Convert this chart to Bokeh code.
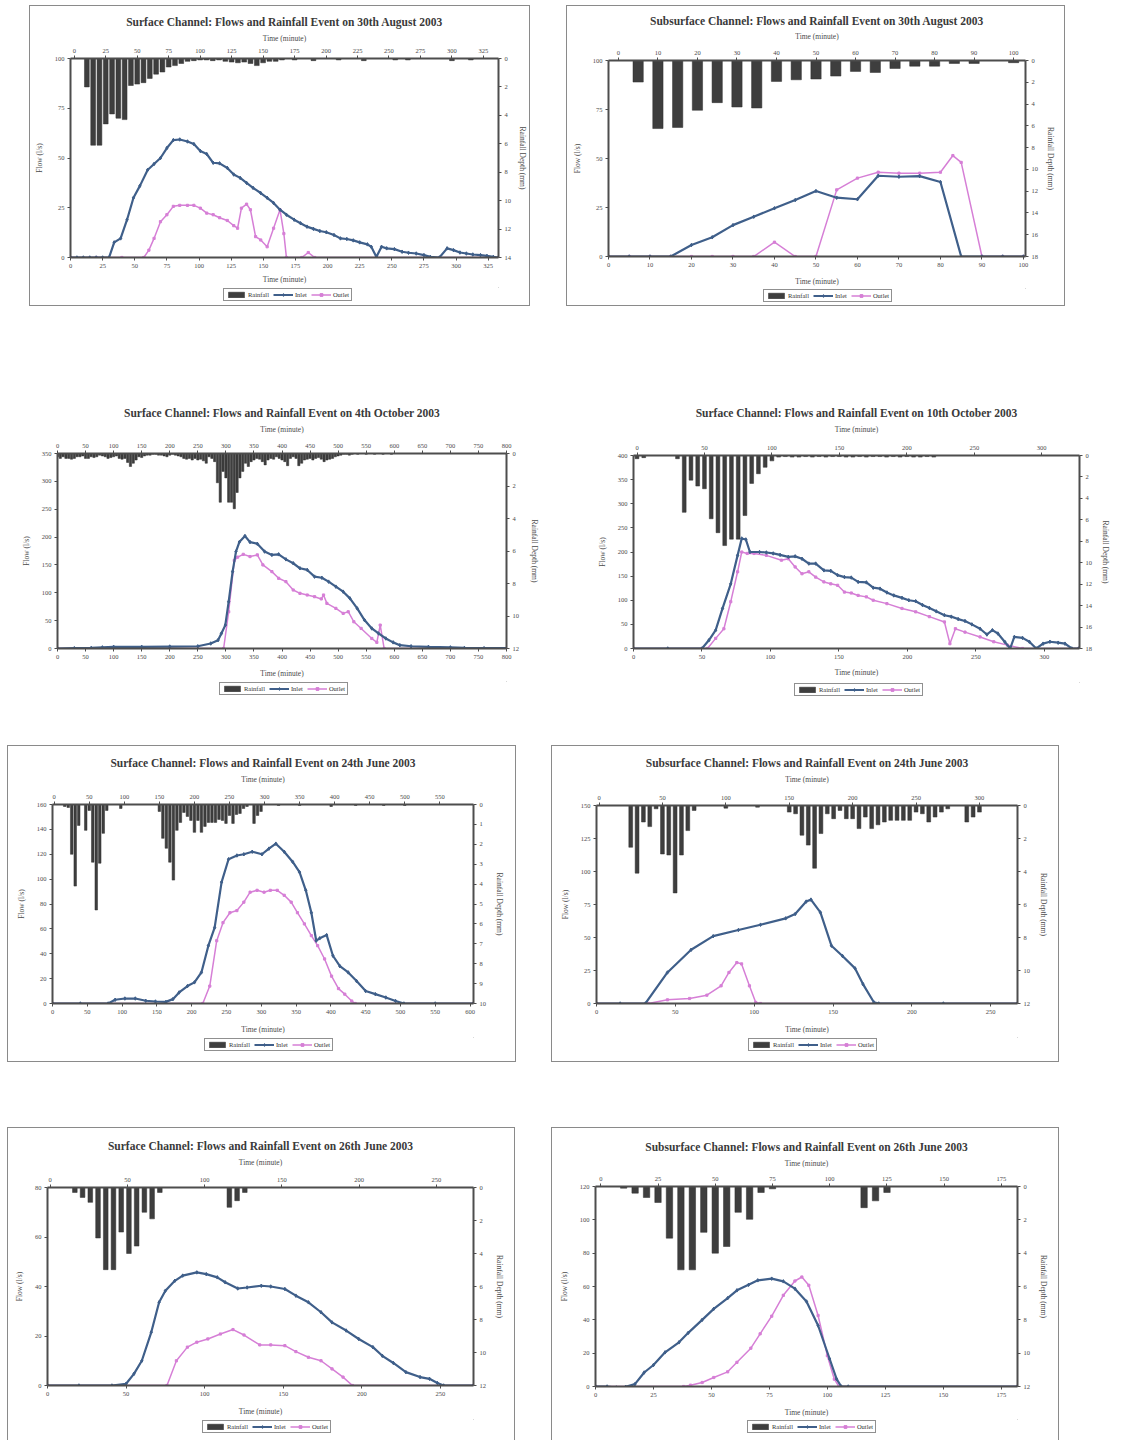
from bokeh.plotting import figure
from bokeh.models import (Range1d, LinearAxis, FixedTicker, Legend, LegendItem,
                          Spacer, InlineStyleSheet)
from bokeh.layouts import row, column
from bokeh.embed import file_html
from bokeh.resources import INLINE

FONT = "Liberation Serif"
BAR = "#3e3e3e"
INLET = "#3f5f8a"
OUTLET = "#d67fd6"
AXC = "#4d4d4d"
TXT = "#4a4a4a"

AXIS_X = "Time (minute)"
AXIS_Y = "Flow (l/s)"
AXIS_R = "Rainfall Depth (mm)"

# ---------------- Panel 1: Surface, 30th August 2003 ----------------
s1_title = "Surface Channel: Flows and Rainfall Event on 30th August 2003"
s1_rain_t = [10, 15, 20, 25, 30, 35, 40, 45, 50, 55, 60, 65, 70, 75, 80, 85, 90, 95, 100, 105,
             110, 115, 120, 125, 130, 135, 140, 145, 150, 155, 160, 165, 175, 190, 210, 230, 255,
             265, 300, 315]
s1_rain_d = [2.0, 6.1, 6.1, 4.6, 3.9, 4.2, 4.3, 1.9, 1.8, 1.7, 1.4, 1.1, 0.95, 0.6, 0.5, 0.35, 0.2,
             0.15, 0.1, 0.1, 0.15, 0.1, 0.2, 0.25, 0.3, 0.25, 0.35, 0.5, 0.3, 0.2, 0.2, 0.1, 0.1,
             0.15, 0.1, 0.15, 0.1, 0.1, 0.15, 0.1]
s1_in_t = [0, 5, 10, 15, 20, 25, 30, 34, 39, 44, 49, 54, 60, 65, 70, 75, 80, 85, 91, 96, 101, 106,
           111, 116, 122, 127, 132, 137, 142, 148, 153, 158, 163, 168, 174, 179, 184, 189, 194,
           199, 205, 210, 215, 220, 225, 231, 234, 238, 242, 246, 252, 258, 263, 269, 275, 280,
           287, 293, 298, 303, 308, 313, 319, 324, 329, 333]
s1_in_f = [0, 0, 0, 0, 0, 0, 0, 7.6, 9.6, 19, 30, 36, 44, 47, 50, 55, 59, 59.3, 58.3, 57, 53.5, 52,
           47.6, 47.3, 45, 41.7, 40, 37.5, 35, 32.4, 30, 27.4, 24, 21.5, 19, 17.2, 15.5, 14.4, 13.3,
           12.7, 11.3, 9.6, 9.3, 8.6, 7.6, 6.6, 5.4, 0.3, 5.4, 4.6, 4.2, 2.9, 2.4, 2, 1.2, 0.3,
           0, 4.6, 3.7, 2.5, 2, 1.5, 1.2, 0.8, 0.3, 0]
s1_out_t = [0, 20, 40, 57, 61, 65, 70, 75, 80, 85, 91, 96, 101, 106, 111, 116, 122, 127, 130, 133,
            137, 140, 144, 148, 153, 158, 163, 166, 168, 180, 185, 190, 333]
s1_out_f = [0, 0, 0, 0, 3.7, 9.6, 18, 21.5, 25.7, 26.2, 26.2, 26.2, 24.8, 22.3, 21.5, 20, 18.6, 16,
            14.7, 24.8, 26.8, 24, 10.5, 8.8, 5.4, 14.7, 24, 12, 0, 0, 2.5, 0, 0]
s1_xticks = list(range(0, 326, 25))
s1_yticks = [0, 25, 50, 75, 100]
s1_rticks = list(range(0, 15, 2))

# ---------------- Panel 2: Subsurface, 30th August 2003 ----------------
s2_title = "Subsurface Channel: Flows and Rainfall Event on 30th August 2003"
s2_rain_t = [5, 10, 15, 20, 25, 30, 35, 40, 45, 50, 55, 60, 65, 70, 75, 80, 85, 90, 100]
s2_rain_d = [1.98, 6.25, 6.15, 4.57, 3.87, 4.27, 4.36, 1.92, 1.77, 1.7, 1.43, 1.0, 1.1, 0.73, 0.52,
             0.52, 0.27, 0.27, 0.2]
s2_in_t = [0, 5, 10, 15, 20, 25, 30, 35, 40, 45, 50, 55, 60, 65, 70, 75, 80, 85, 90, 95, 100]
s2_in_f = [0, 0, 0, 0, 5.9, 9.8, 16, 20.3, 24.6, 28.8, 33.4, 30, 29.2, 41.2, 40.7, 41, 38, 0, 0, 0, 0]
s2_out_t = [0, 5, 10, 15, 20, 25, 30, 35, 40, 45, 50, 55, 60, 65, 70, 75, 80, 83, 85, 90, 95, 100]
s2_out_f = [0, 0, 0, 0, 0, 0, 0, 0, 7.3, 0, 0, 34, 40, 43, 42.5, 42.5, 43, 51.5, 48, 0, 0, 0]
s2_xticks = list(range(0, 101, 10))
s2_yticks = [0, 25, 50, 75, 100]
s2_rticks = list(range(0, 19, 2))

# ---------------- Panel 3: Surface, 4th October 2003 ----------------
s3_title = "Surface Channel: Flows and Rainfall Event on 4th October 2003"
s3_rain_t = list(range(0, 605, 5))
s3_rain_d = [0.2, 0.3, 0.2, 0.3, 0.3, 0.35, 0.3, 0.2, 0.2, 0.15,
             0.3, 0.3, 0.2, 0.25, 0.2, 0.1, 0.15, 0.2, 0.3, 0.25,
             0.2, 0.15, 0.3, 0.35, 0.3, 0.55, 0.8, 0.6, 0.4, 0.2,
             0.25, 0.15, 0.1, 0.1, 0.05, 0.05, 0.1, 0.1, 0.15, 0.2,
             0.1, 0.05, 0.1, 0.15, 0.2, 0.3, 0.35, 0.3, 0.4, 0.3,
             0.4, 0.35, 0.45, 0.6, 0.2, 0.3, 0.5, 1.8, 3.0, 1.1,
             1.5, 3.0, 3.0, 3.4, 2.4, 1.5, 1.1, 0.6, 0.8, 0.5,
             0.4, 0.3, 0.35, 0.5, 0.7, 0.4, 0.3, 0.35, 0.2, 0.3,
             0.4, 0.5, 0.75, 0.3, 0.2, 0.3, 0.75, 0.6, 0.4, 0.35,
             0.3, 0.4, 0.3, 0.25, 0.35, 0.5, 0.4, 0.35, 0.3, 0.2,
             0.15, 0.1, 0.05, 0.05, 0.1, 0.05, 0, 0.05, 0, 0,
             0.05, 0, 0, 0.05, 0, 0, 0.05, 0, 0, 0.05,
             0]
s3_in_t = [0, 30, 60, 80, 100, 150, 200, 250, 273, 286, 292, 299, 305, 312, 318, 324, 334, 343, 356,
           369, 382, 394, 407, 420, 432, 445, 458, 471, 483, 496, 509, 521, 534, 547, 560, 572, 585,
           598, 610, 630, 661, 700, 725, 760, 800]
s3_in_f = [0, 0.5, 1, 2, 3, 3, 3.5, 4, 9, 15, 27, 42, 84, 138, 174, 191, 202, 191, 188, 174, 168, 169,
           160, 153, 144, 141, 129, 127, 120, 111, 102, 90, 72, 51, 36, 27, 18, 11, 6, 4, 3, 2, 1,
           0.5, 0.5]
s3_out_t = [0, 200, 296, 305, 315, 321, 331, 343, 356, 366, 382, 394, 407, 420, 432, 445, 458, 470,
            474, 480, 496, 509, 518, 528, 541, 560, 569, 575, 582, 800]
s3_out_f = [0, 0, 0, 66, 158, 164, 169, 165, 168, 150, 138, 126, 120, 105, 99, 96, 93, 89, 96, 81,
            72, 63, 66, 48, 36, 18, 11, 42, 0, 0]
s3_xticks = list(range(0, 801, 50))
s3_yticks = list(range(0, 351, 50))
s3_rticks = list(range(0, 13, 2))

# ---------------- Panel 4: Surface, 10th October 2003 ----------------
s4_title = "Surface Channel: Flows and Rainfall Event on 10th October 2003"
s4_rain_t = [0, 5, 30, 35, 40, 45, 50, 55, 60, 65, 70, 75, 80, 85, 90, 95, 100, 105, 110, 115, 120,
             125, 130, 135, 140, 145, 150, 155, 160, 165, 170, 175, 180, 185, 190, 195, 200, 205,
             210, 215, 220]
s4_rain_d = [0.3, 0.2, 0.3, 5.3, 2.3, 2.85, 3.1, 5.9, 7.2, 8.4, 7.8, 7.8, 5.6, 2.6, 1.7, 1.1, 0.5,
             0.15, 0.1, 0.15, 0.15, 0.1, 0.15, 0.1, 0.15, 0.1, 0.1, 0.15, 0.15, 0.1, 0.15, 0.1, 0.1,
             0.15, 0.1, 0.15, 0.1, 0.15, 0.15, 0.1, 0.15]
s4_in_t = [0, 25, 50, 55, 60, 65, 71, 76, 79, 82, 85, 92, 97, 102, 107, 113, 118, 123, 128, 133, 139,
           144, 149, 154, 159, 164, 170, 175, 180, 185, 190, 196, 201, 206, 211, 216, 221, 227, 232,
           237, 242, 247, 253, 258, 262, 266, 271, 275, 278, 284, 289, 294, 299, 304, 310, 315, 320,
           325]
s4_in_f = [0, 0, 0, 17, 38, 83, 134, 193, 228, 226, 200, 200, 199, 197, 194, 190, 191, 186, 176, 176,
           162, 161, 152, 148, 147, 138, 137, 126, 124, 116, 110, 105, 100, 98, 90, 84, 77, 69, 66,
           61, 57, 50, 41, 29, 38, 31, 14, 0, 24, 22, 14, 0, 10, 14, 12, 10, 0, 0]
s4_out_t = [0, 50, 54, 60, 66, 71, 76, 79, 83, 88, 97, 108, 113, 118, 123, 128, 133, 139, 144, 149,
            154, 159, 164, 170, 175, 185, 196, 206, 216, 227, 231, 235, 242, 253, 263, 273, 284, 325]
s4_out_f = [0, 0, 0, 21, 41, 97, 159, 200, 197, 197, 193, 183, 186, 169, 155, 159, 148, 138, 134,
            131, 117, 115, 110, 107, 100, 93, 83, 76, 66, 55, 10, 41, 34, 24, 14, 7, 0, 0]
s4_xticks = list(range(0, 301, 50))
s4_yticks = list(range(0, 401, 50))
s4_rticks = list(range(0, 19, 2))

# ---------------- Panel 5: Surface, 24th June 2003 ----------------
s5_title = "Surface Channel: Flows and Rainfall Event on 24th June 2003"
s5_rain_t = [15, 20, 25, 30, 35, 45, 50, 55, 60, 65, 70, 75, 95, 150, 155, 160, 165, 170, 175, 180,
             185, 190, 195, 200, 205, 210, 215, 220, 225, 230, 235, 240, 245, 250, 255, 260, 265,
             270, 275, 285, 290, 295, 320, 350, 395, 430, 470, 500]
s5_rain_d = [0.1, 0.15, 2.5, 4.1, 1.05, 1.3, 0.3, 2.9, 5.3, 2.95, 1.45, 0.3, 0.2, 0.35, 1.7, 2.2,
             2.9, 3.8, 1.3, 0.9, 0.4, 0.6, 0.8, 1.4, 0.8, 1.4, 1.1, 0.9, 0.9, 0.9, 0.75, 0.8, 0.95,
             0.55, 0.95, 0.5, 0.45, 0.2, 0.1, 0.95, 0.55, 0.35, 0.05, 0.05, 0.1, 0.05, 0.05, 0.05]
s5_in_t = [0, 40, 80, 90, 104, 119, 134, 148, 163, 173, 182, 194, 204, 214, 224, 233, 243, 253, 265,
           275, 287, 301, 311, 321, 333, 345, 355, 364, 372, 379, 384, 394, 403, 413, 425, 437, 450,
           464, 479, 493, 505, 550, 605]
s5_in_f = [0, 0, 0, 3, 4, 4, 2.2, 1.6, 1.3, 3.5, 8.9, 14, 17, 25, 46.5, 61, 97.6, 116, 119, 120, 122,
           120, 124.5, 128.5, 122, 114, 105.6, 91, 73, 50.5, 52.4, 55, 38.4, 30, 25, 18, 10, 7.5,
           4.8, 2, 0, 0, 0]
s5_out_t = [0, 216, 226, 236, 245, 255, 265, 275, 284, 294, 304, 313, 323, 333, 343, 352, 362, 372,
            381, 391, 401, 411, 420, 430, 435, 605]
s5_out_f = [0, 0, 14, 50.5, 65, 73, 74.7, 81.5, 89.5, 91, 89.5, 91, 91, 87, 81.5, 73, 64, 54.6, 46.5,
            35.8, 22, 12, 7.5, 2, 0, 0]
s5_xticks = list(range(0, 601, 50))
s5_yticks = list(range(0, 161, 20))
s5_rticks = list(range(0, 11, 1))

# ---------------- Panel 6: Subsurface, 24th June 2003 ----------------
s6_title = "Subsurface Channel: Flows and Rainfall Event on 24th June 2003"
s6_rain_t = [25, 30, 35, 40, 45, 50, 55, 60, 65, 70, 75, 100, 125, 150, 155, 160, 165, 170, 175,
             180, 185, 190, 195, 200, 205, 210, 215, 220, 225, 230, 235, 240, 245, 250, 255, 260,
             265, 270, 275, 290, 295, 300]
s6_rain_d = [2.53, 4.1, 1.0, 1.28, 0.2, 2.94, 3.0, 5.3, 3.0, 1.52, 0.3, 0.16, 0.1, 0.4, 0.5, 1.8,
             2.4, 3.8, 1.7, 0.5, 0.8, 0.3, 0.8, 0.8, 1.4, 0.7, 1.4, 1.17, 1.0, 0.9, 0.9, 0.9, 0.9,
             0.4, 0.5, 1.0, 0.7, 0.4, 0.2, 1.0, 0.7, 0.4]
s6_in_t = [0, 15, 31, 45, 60, 74, 90, 104, 120, 126, 133, 136, 142, 149, 156, 164, 169, 176, 179,
           220, 267]
s6_in_f = [0, 0, 0, 23.5, 40.7, 51, 55.7, 59.7, 64.5, 67.8, 77.2, 78.7, 69, 43.8, 36, 26.6, 14.7,
           0.8, 0, 0, 0]
s6_out_t = [0, 33, 45, 59, 70, 79, 84, 89, 92, 97, 101, 104, 267]
s6_out_f = [0, 0, 2.8, 3.8, 6.3, 13.4, 23.5, 31, 30, 13.4, 0.8, 0, 0]
s6_xticks = list(range(0, 251, 50))
s6_xtticks = list(range(0, 301, 50))
s6_yticks = list(range(0, 151, 25))
s6_rticks = list(range(0, 13, 2))

# ---------------- Panel 7: Surface, 26th June 2003 ----------------
s7_title = "Surface Channel: Flows and Rainfall Event on 26th June 2003"
s7_rain_t = [16, 21, 26, 31, 36, 41, 46, 51, 56, 61, 66, 71, 116, 121, 126]
s7_rain_d = [0.3, 0.6, 0.9, 3.06, 4.98, 4.98, 2.7, 4.0, 3.55, 1.5, 1.9, 0.3, 1.2, 0.8, 0.3]
s7_in_t = [0, 20, 41, 50, 55, 60, 66, 71, 75, 81, 86, 95, 101, 108, 113, 121, 127, 136, 142, 151,
           158, 166, 174, 181, 190, 198, 207, 213, 220, 228, 237, 243, 248, 252, 271]
s7_in_f = [0, 0, 0, 0.7, 4.7, 10, 21.5, 33.6, 38.3, 42.3, 44.4, 45.7, 45, 43.7, 41.7, 39.2, 39.6,
           40.3, 40, 39, 36.3, 33.6, 29.6, 25.5, 22.2, 18.8, 15.5, 12, 9.1, 5.4, 3.4, 2.7, 1, 0, 0]
s7_out_t = [0, 76, 82, 89, 95, 102, 110, 118, 125, 135, 142, 151, 158, 166, 174, 181, 188, 194, 271]
s7_out_f = [0, 0, 10, 15.5, 17.5, 18.8, 20.8, 22.6, 20.4, 16.4, 16.4, 16.1, 13.7, 11.4, 10, 6.7,
            3.4, 0, 0]
s7_xticks = list(range(0, 251, 50))
s7_yticks = list(range(0, 81, 20))
s7_rticks = list(range(0, 13, 2))

# ---------------- Panel 8: Subsurface, 26th June 2003 ----------------
s8_title = "Subsurface Channel: Flows and Rainfall Event on 26th June 2003"
s8_rain_t = [10, 15, 20, 25, 30, 35, 40, 45, 50, 55, 60, 65, 70, 75, 115, 120, 125]
s8_rain_d = [0.1, 0.4, 0.66, 0.96, 3.1, 5.0, 5.0, 2.75, 4.0, 3.6, 1.55, 1.97, 0.36, 0.14, 1.27,
             0.86, 0.36]
s8_in_t = [0, 5, 9, 13, 17, 21, 25, 30, 36, 40, 46, 51, 57, 61, 66, 70, 76, 81, 86, 91, 96, 101,
           104, 106, 109, 182]
s8_in_f = [0, 0, -0.6, -0.2, 1.4, 8.4, 12.9, 20.5, 26.5, 32.2, 40, 46.6, 53, 57.7, 61, 63.7, 64.7,
           63.1, 58.7, 51, 36.6, 16.5, 4.4, 0, 0, 0]
s8_out_t = [0, 38, 41, 46, 51, 57, 61, 67, 71, 76, 81, 86, 89, 92, 96, 100, 103, 105, 182]
s8_out_f = [0, 0, 0.8, 2.4, 5.4, 8.8, 14.5, 23, 31.6, 42.2, 54.7, 63.3, 65.7, 60.7, 42.6, 18.5, 4.4,
            0, 0]
s8_xticks = list(range(0, 176, 25))
s8_yticks = list(range(0, 121, 20))
s8_rticks = list(range(0, 13, 2))

BOX_FULL = ":host { outline: 1px solid #8a8a8a; outline-offset: -1px; }"
BOX_OPEN = ":host { box-shadow: inset 1px 1px 0 0 #8a8a8a, inset -1px 0 0 0 #8a8a8a; }"
LEG_H = 11
# legend sample renderers live outside the legend strip's (0..1) view, so only the key shows
OFF = 5


def style_axis(ax, ticks, label, label_standoff):
    ax.ticker = FixedTicker(ticks=ticks)
    ax.axis_label = label
    ax.axis_line_color = AXC
    ax.axis_line_width = 2
    ax.major_tick_line_color = AXC
    ax.major_tick_line_width = 1
    ax.major_tick_out = 3
    ax.major_tick_in = 0
    ax.minor_tick_out = 0
    ax.minor_tick_in = 0
    ax.major_label_standoff = 3
    ax.major_label_text_font = FONT
    ax.major_label_text_font_size = "6.5px"
    ax.major_label_text_color = TXT
    ax.axis_label_text_font = FONT
    ax.axis_label_text_font_size = "7.5px"
    ax.axis_label_text_font_style = "normal"
    ax.axis_label_text_color = TXT
    ax.axis_label_standoff = label_standoff


def make_panel(c):
    bx0, by0, bx1, by1 = c["box"]
    fx0, fy0, fx1, fy1 = c["frame"]
    lx0, ly0 = c["leg"]
    split = ly0 - 3
    p = figure(width=bx1 - bx0, height=split - by0,
               x_range=Range1d(*c["xr"]), y_range=Range1d(0, c["ymax"]),
               output_backend="svg", toolbar_location=None,
               min_border_left=fx0 - bx0, min_border_right=bx1 - fx1,
               min_border_top=fy0 - by0, min_border_bottom=split - fy1,
               title=c["title"])
    p.border_fill_color = None
    p.background_fill_color = "white"
    p.outline_line_color = None
    p.xgrid.visible = False
    p.ygrid.visible = False
    p.title.text_font = FONT
    p.title.text_font_size = "11.5px"
    p.title.text_font_style = "bold"
    p.title.text_color = "#3a3a3a"
    p.title.align = "center"
    p.title.standoff = c["tstand"]

    style_axis(p.below[0], c["xt"], AXIS_X, c["bls"])
    style_axis(p.left[0], c["yt"], AXIS_Y, 8)

    p.extra_x_ranges = {"rt": Range1d(*c["xtr"])}
    p.extra_y_ranges = {"rd": Range1d(c["rmax"], 0)}
    top = LinearAxis(x_range_name="rt")
    style_axis(top, c["xtt"], AXIS_X, c["tls"])
    p.add_layout(top, "above")
    right = LinearAxis(y_range_name="rd")
    style_axis(right, c["rt"], AXIS_R, c["rls"])
    p.add_layout(right, "right")

    p.vbar(x=c["rain_t"], width=c["bw"], top=0, bottom=c["rain_d"],
           x_range_name="rt", y_range_name="rd",
           fill_color=BAR, line_color="#2e2e2e", line_width=0.5)
    p.line(c["out_t"], c["out_f"], line_color=OUTLET, line_width=1.5)
    p.scatter(c["out_t"], c["out_f"], marker="square", size=2.2, color=OUTLET)
    p.line(c["in_t"], c["in_f"], line_color=INLET, line_width=2.2)
    p.scatter(c["in_t"], c["in_f"], marker="diamond", size=3.5, color=INLET)

    # legend strip: its own small figure stacked under the chart inside the same box.
    # Bokeh aligns the frames of stacked figures, so positions are relative to the chart frame.
    lh = by1 - split
    lf = figure(width=bx1 - bx0, height=lh, x_range=Range1d(0, 1), y_range=Range1d(0, 1),
                output_backend="svg", toolbar_location=None,
                min_border_left=fx0 - bx0, min_border_right=bx1 - fx1,
                min_border_top=0, min_border_bottom=0,
                x_axis_location=None, y_axis_location=None)
    lf.border_fill_color = None
    lf.background_fill_color = None
    lf.outline_line_color = None
    lf.grid.visible = False
    rb = lf.vbar(x=[OFF], top=[OFF], bottom=[OFF + 1], width=1,
                 fill_color=BAR, line_color="#2e2e2e", line_width=0.5)
    ril = lf.line(x=[OFF, OFF + 1], y=[OFF, OFF], line_color=INLET, line_width=2)
    rim = lf.scatter(x=[OFF], y=[OFF], marker="diamond", size=3.5, color=INLET)
    rol = lf.line(x=[OFF, OFF + 1], y=[OFF, OFF], line_color=OUTLET, line_width=1.5)
    rom = lf.scatter(x=[OFF], y=[OFF], marker="square", size=2.2, color=OUTLET)
    leg = Legend(items=[LegendItem(label="Rainfall", renderers=[rb]),
                        LegendItem(label="Inlet", renderers=[ril, rim]),
                        LegendItem(label="Outlet", renderers=[rol, rom])],
                 orientation="horizontal",
                 location=(lx0 - fx0, lh - 3 - LEG_H))
    leg.label_text_font = FONT
    leg.label_text_font_size = "6.5px"
    leg.label_text_color = "#333"
    leg.glyph_width = 20
    leg.glyph_height = 7
    leg.label_height = 7
    leg.label_width = 10
    leg.label_standoff = 2
    leg.padding = 2
    leg.spacing = 4
    leg.margin = 0
    leg.border_line_color = "#222"
    leg.border_line_width = 1
    leg.background_fill_color = "white"
    leg.background_fill_alpha = 1
    lf.add_layout(leg)

    kw = {}
    if c["css"]:
        kw["stylesheets"] = [InlineStyleSheet(css=c["css"])]
    return column([p, lf], **kw)


panels = [
    dict(title=s1_title, rain_t=s1_rain_t, rain_d=s1_rain_d, in_t=s1_in_t, in_f=s1_in_f,
         out_t=s1_out_t, out_f=s1_out_f, xr=(0, 333), xtr=(-3, 337), ymax=100, rmax=14,
         xt=s1_xticks, xtt=s1_xticks, yt=s1_yticks, rt=s1_rticks, bw=3.8,
         box=(29, 5, 530, 306), frame=(70, 58, 498, 257), leg=(223, 290),
         css=BOX_FULL, tstand=5, tls=3, bls=4, rls=4),
    dict(title=s2_title, rain_t=s2_rain_t, rain_d=s2_rain_d, in_t=s2_in_t, in_f=s2_in_f,
         out_t=s2_out_t, out_f=s2_out_f, xr=(0, 100.5), xtr=(-2.5, 103), ymax=100, rmax=18,
         xt=s2_xticks, xtt=s2_xticks, yt=s2_yticks, rt=s2_rticks, bw=2.6,
         box=(566, 5, 1065, 306), frame=(608, 60, 1025, 257), leg=(763, 291),
         css=BOX_FULL, tstand=4, tls=7, bls=7, rls=5),
    dict(title=s3_title, rain_t=s3_rain_t, rain_d=s3_rain_d, in_t=s3_in_t, in_f=s3_in_f,
         out_t=s3_out_t, out_f=s3_out_f, xr=(0, 800), xtr=(0, 800), ymax=350, rmax=12,
         xt=s3_xticks, xtt=s3_xticks, yt=s3_yticks, rt=s3_rticks, bw=4,
         box=(8, 398, 545, 700), frame=(57, 453, 506, 648), leg=(219, 684),
         css=None, tstand=5, tls=7, bls=7, rls=8),
    dict(title=s4_title, rain_t=s4_rain_t, rain_d=s4_rain_d, in_t=s4_in_t, in_f=s4_in_f,
         out_t=s4_out_t, out_f=s4_out_f, xr=(0, 325.6), xtr=(-2.6, 328), ymax=400, rmax=18,
         xt=s4_xticks, xtt=s4_xticks, yt=s4_yticks, rt=s4_rticks, bw=2.8,
         box=(560, 398, 1113, 700), frame=(633, 455, 1083, 648), leg=(794, 685),
         css=None, tstand=5, tls=9, bls=6, rls=6),
    dict(title=s5_title, rain_t=s5_rain_t, rain_d=s5_rain_d, in_t=s5_in_t, in_f=s5_in_f,
         out_t=s5_out_t, out_f=s5_out_f, xr=(0, 605), xtr=(-2.4, 598), ymax=160, rmax=10,
         xt=s5_xticks, xtt=s5_xticks, yt=s5_yticks, rt=s5_rticks, bw=3.6,
         box=(7, 745, 516, 1062), frame=(52, 804, 473, 1003), leg=(204, 1040),
         css=BOX_FULL, tstand=5, tls=8, bls=8, rls=6),
    dict(title=s6_title, rain_t=s6_rain_t, rain_d=s6_rain_d, in_t=s6_in_t, in_f=s6_in_f,
         out_t=s6_out_t, out_f=s6_out_f, xr=(0, 267), xtr=(-2, 330), ymax=150, rmax=12,
         xt=s6_xticks, xtt=s6_xtticks, yt=s6_yticks, rt=s6_rticks, bw=3,
         box=(551, 745, 1059, 1062), frame=(596, 805, 1017, 1003), leg=(748, 1040),
         css=BOX_FULL, tstand=5, tls=9, bls=8, rls=6),
    dict(title=s7_title, rain_t=s7_rain_t, rain_d=s7_rain_d, in_t=s7_in_t, in_f=s7_in_f,
         out_t=s7_out_t, out_f=s7_out_f, xr=(0, 271), xtr=(-1.7, 274), ymax=80, rmax=12,
         xt=s7_xticks, xtt=s7_xticks, yt=s7_yticks, rt=s7_rticks, bw=3,
         box=(7, 1127, 515, 1440), frame=(47, 1187, 473, 1385), leg=(202, 1422),
         css=BOX_OPEN, tstand=5, tls=8, bls=8, rls=6),
    dict(title=s8_title, rain_t=s8_rain_t, rain_d=s8_rain_d, in_t=s8_in_t, in_f=s8_in_f,
         out_t=s8_out_t, out_f=s8_out_f, xr=(0, 182), xtr=(-2.3, 182), ymax=120, rmax=12,
         xt=s8_xticks, xtt=s8_xticks, yt=s8_yticks, rt=s8_rticks, bw=2.8,
         box=(551, 1127, 1059, 1440), frame=(595, 1186, 1017, 1386), leg=(747, 1422),
         css=BOX_OPEN, tstand=6, tls=6, bls=8, rls=6),
]

blocks = [make_panel(c) for c in panels]

# page origin (rendered layout starts at the top-left corner)
ORIGIN_X, ORIGIN_Y = 0, 0
children = []
prev_bottom = ORIGIN_Y
for i in range(0, 8, 2):
    pa, pb = panels[i], panels[i + 1]
    y0, y1 = pa["box"][1], pa["box"][3]
    if y0 > prev_bottom:
        children.append(Spacer(width=10, height=y0 - prev_bottom))
    items = []
    cur_x = ORIGIN_X
    for c, b in ((pa, blocks[i]), (pb, blocks[i + 1])):
        if c["box"][0] > cur_x:
            items.append(Spacer(width=c["box"][0] - cur_x, height=y1 - y0))
        items.append(b)
        cur_x = c["box"][2]
    children.append(row(items))
    prev_bottom = y1

layout = column(children)
open("out.html", "w").write(file_html(layout, INLINE))
